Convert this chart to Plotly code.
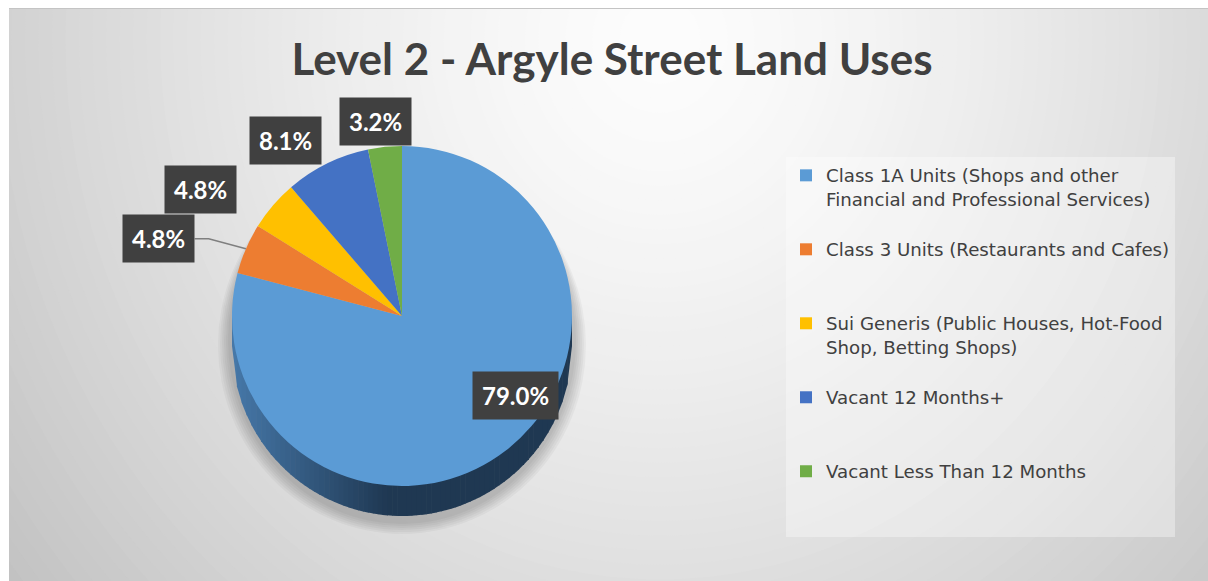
import math
import plotly.graph_objects as go

# ---------------- data ----------------
categories = [
    "Class 1A Units (Shops and other<br>Financial and Professional Services)<br> ",
    "Class 3 Units (Restaurants and Cafes)<br> <br> ",
    "Sui Generis (Public Houses, Hot-Food<br>Shop, Betting Shops)<br> ",
    "Vacant 12 Months+<br> <br> ",
    "Vacant Less Than 12 Months<br> <br> ",
]
shares = [79.0, 4.8, 4.8, 8.1, 3.2]
slice_colors = ["#5B9BD5", "#ED7D31", "#FFC000", "#4472C4", "#70AD47"]
title_text = "Level 2 - Argyle Street Land Uses"

# ---------------- layout constants ----------------
W, H = 1208, 581
CX, CY, R = 402, 316, 170      # pie centre / radius in px
DEPTH = 30                     # fake 3D thickness
FONT = "Lato"


def px(x):
    return x / W


def py(y):
    return 1 - y / H


def grey(v):
    v = int(max(0, min(255, v)))
    return f"rgb({v},{v},{v})"


shapes = []

# radial-ish background gradient
gx, gy, ga, gb = 660, 40, 760, 820
N = 90
for i in range(N):
    d = 1.6 * (1 - i / N)
    c = 253 - 52 * min(d, 1.25) ** 1.4
    shapes.append(dict(type="circle", xref="paper", yref="paper", layer="below",
                       x0=px(gx - ga * d), x1=px(gx + ga * d),
                       y0=py(gy + gb * d), y1=py(gy - gb * d),
                       fillcolor=grey(c), line=dict(width=0)))
# white page margins
shapes.append(dict(type="rect", xref="paper", yref="paper", layer="below",
                   x0=0, x1=px(9), y0=0, y1=1, fillcolor="white", line=dict(width=0)))
shapes.append(dict(type="rect", xref="paper", yref="paper", layer="below",
                   x0=0, x1=1, y0=py(8), y1=1, fillcolor="white", line=dict(width=0)))
shapes.append(dict(type="line", xref="paper", yref="paper", layer="below",
                   x0=px(9), x1=1, y0=py(8.5), y1=py(8.5), line=dict(color="#c4c4c4", width=1)))

# soft shadow under the pie
for k in range(6):
    g = 14 - 2 * k
    shapes.append(dict(type="circle", xref="paper", yref="paper", layer="below",
                       x0=px(CX - R - g), x1=px(CX + R + g),
                       y0=py(CY + R + DEPTH + g + 4), y1=py(CY - R + 10),
                       fillcolor="rgba(0,0,0,0.035)", line=dict(width=0)))

# pie side (cylinder wall) in vertical strips with a horizontal gradient
NS = 70
c_left = (70, 120, 168)
c_right = (31, 56, 82)
for s in range(NS):
    xa = CX - R + 2 * R * s / NS
    xb = CX - R + 2 * R * (s + 1) / NS + 0.6
    xb = min(xb, CX + R)
    ha = math.sqrt(max(R * R - (xa - CX) ** 2, 0))
    hb = math.sqrt(max(R * R - (xb - CX) ** 2, 0))
    t = min(1.0, (s / NS) * 2.2)
    col = tuple(int(c_left[j] + (c_right[j] - c_left[j]) * t) for j in range(3))
    path = (f"M {px(xa)},{py(CY)} L {px(xb)},{py(CY)} "
            f"L {px(xb)},{py(CY + hb + DEPTH)} L {px(xa)},{py(CY + ha + DEPTH)} Z")
    shapes.append(dict(type="path", xref="paper", yref="paper", layer="below",
                       path=path, fillcolor=f"rgb{col}", line=dict(width=0)))

# ---------------- pie ----------------
fig = go.Figure(go.Pie(
    labels=categories,
    values=shares,
    sort=False,
    direction="clockwise",
    rotation=0,
    marker=dict(colors=slice_colors, line=dict(width=0)),
    textinfo="none",
    hoverinfo="label+percent",
    domain=dict(x=[px(CX - R), px(CX + R)], y=[py(CY + R), py(CY - R)]),
))

# ---------------- data labels (computed from slice angles) ----------------
annotations = []
total = sum(shares)
cum = 0.0
LEADER = {1}
for i, v in enumerate(shares):
    mid = (cum + v / 2) / total * 2 * math.pi
    cum += v
    if v / total > 0.5:
        lx, ly = CX + 185 * math.sin(mid), CY - 100 * math.cos(mid)
    else:
        lx, ly = CX + 265 * math.sin(mid), CY - 195 * math.cos(mid)
    annotations.append(dict(
        x=px(lx), y=py(ly), xref="paper", yref="paper", showarrow=False,
        text=f"<b>{v:.1f}%</b>", font=dict(family=FONT, size=24, color="white"),
        bgcolor="#404040", borderpad=9, xanchor="center", yanchor="middle"))
    if i in LEADER:
        ex, ey = CX + R * math.sin(mid), CY - R * math.cos(mid)
        shapes.append(dict(type="path", xref="paper", yref="paper", layer="above",
                           path=(f"M {px(lx + 36)},{py(ly)} L {px(lx + 50)},{py(ly)} "
                                 f"L {px(ex)},{py(ey)}"),
                           line=dict(color="#7f7f7f", width=1.5)))

fig.update_layout(
    width=W, height=H,
    margin=dict(l=0, r=0, t=0, b=0),
    paper_bgcolor="white",
    plot_bgcolor="white",
    title=dict(text=f"<b>{title_text}</b>", x=px(612), xanchor="center",
               y=py(60), yanchor="middle",
               font=dict(family=FONT, size=44, color="#404040")),
    legend=dict(x=px(786), y=py(157), xanchor="left", yanchor="top",
                bgcolor="rgba(255,255,255,0.35)",
                font=dict(family="DejaVu Sans", size=18.2, color="#404040"),
                valign="top", itemsizing="constant",
                traceorder="normal"),
    shapes=shapes,
    annotations=annotations,
    showlegend=True,
)

fig.write_html(
    "out.html",
    config={"displayModeBar": False},
    post_script="document.body.style.margin='0';document.body.style.overflow='hidden';",
)
